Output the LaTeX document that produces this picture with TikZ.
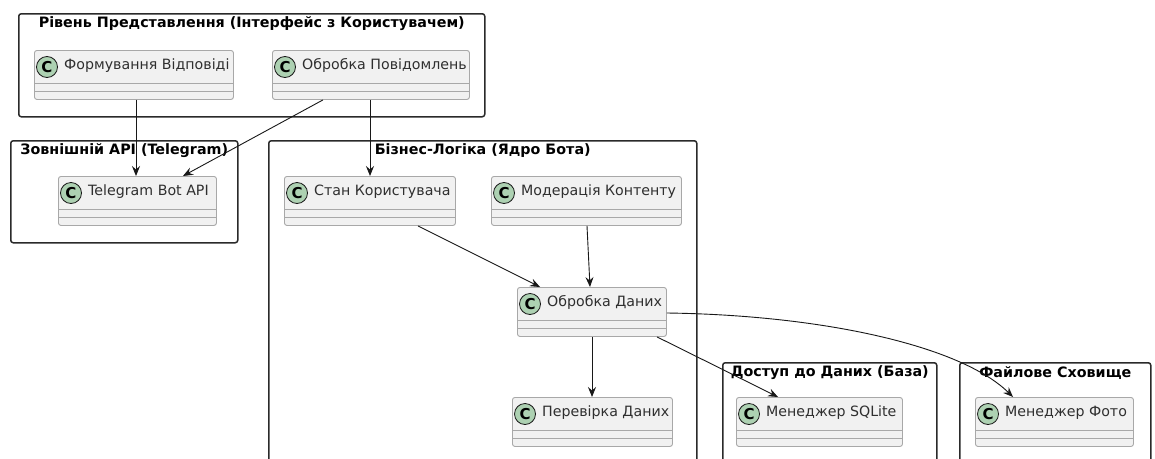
\documentclass[tikz,border=0pt]{standalone}
\usepackage{fontspec}
\setmainfont{DejaVu Sans}
\usetikzlibrary{arrows.meta,calc}
\definecolor{clsfill}{HTML}{F1F1F1}
\definecolor{clsdraw}{HTML}{A8A8A8}
\definecolor{circfill}{HTML}{ADD1B2}
\definecolor{ink}{HTML}{181818}
\definecolor{pkgdraw}{HTML}{2A2A2A}
\tikzset{
 pkg/.style={draw=pkgdraw, line width=1.5pt, rounded corners=2.5pt, fill=white, anchor=north west, inner sep=0},
 pkgtitle/.style={font=\bfseries\fontsize{14.3}{16}\selectfont, text=black, inner sep=0},
 cls/.style={draw=clsdraw, line width=0.9pt, fill=clsfill, rounded corners=2.5pt, anchor=north west, inner sep=0, minimum height=49pt},
 clsline/.style={draw=clsdraw, line width=0.9pt},
 circ/.style={circle, draw=ink, line width=0.8pt, fill=circfill, minimum size=21pt, inner sep=0, font=\bfseries\fontsize{15}{15}\selectfont},
 clstext/.style={font=\fontsize{14.2}{16}\selectfont, text=ink!90, anchor=mid west, inner sep=0},
 dep/.style={draw=ink, line width=0.9pt, -{Stealth[length=10pt,width=8pt,inset=3.5pt]}},
}
\newcommand\classbox[4]{%
 \node[cls, minimum width=#3pt] (#1) at (#2) {};
 \draw[clsline] ([yshift=-33pt]#1.north west) -- ([yshift=-33pt]#1.north east);
 \draw[clsline] ([yshift=-41pt]#1.north west) -- ([yshift=-41pt]#1.north east);
 \node[circ] (#1c) at ([xshift=13pt,yshift=-17pt]#1.north west) {C};
 \node[clstext] (#1t) at ([xshift=30pt,yshift=-17pt]#1.north west) {#4};
}
\newcommand\pkgbox[5]{%
 \node[pkg, minimum width=#3pt, minimum height=#4pt] (#1) at (#2) {};
 \node[pkgtitle] (#1t) at ([yshift=-11pt]#1.north) {#5};
}
\begin{document}
\begin{tikzpicture}[x=1pt,y=-1pt]
\clip (0,0) rectangle (1155,458);
\fill[white] (0,0) rectangle (1155,458);
% packages
\pkgbox{p1}{18,13}{466}{103}{Рівень Представлення (Інтерфейс з Користувачем)}
\pkgbox{p2}{10,140}{227}{102}{Зовнішній API (Telegram)}
\pkgbox{p3}{268,140}{428}{340}{Бізнес-Логіка (Ядро Бота)}
\pkgbox{p4}{722,362}{214}{120}{Доступ до Даних (База)}
\pkgbox{p5}{959,362}{191}{120}{Файлове Сховище}
% classes
\classbox{fv}{34,50}{199}{Формування Відповіді}
\classbox{op}{272,50}{197}{Обробка Повідомлень}
\classbox{tg}{58,176}{158}{Telegram Bot API}
\classbox{st}{284,176}{171}{Стан Користувача}
\classbox{md}{491,176}{190}{Модерація Контенту}
\classbox{od}{517,287}{149}{Обробка Даних}
\classbox{pv}{512,397}{160}{Перевірка Даних}
\classbox{sq}{736,397}{166}{Менеджер SQLite}
\classbox{ph}{975,397}{158}{Менеджер Фото}
% connectors
\draw[dep] ($(fv.south west)+(102,0)$) -- ($(tg.north west)+(78,0)$);
\draw[dep] ($(op.south west)+(51,0)$) -- ($(tg.north west)+(125,0)$);
\draw[dep] ($(op.south west)+(98,0)$) -- ($(st.north west)+(86,0)$);
\draw[dep] ($(st.south west)+(134,0)$) -- ($(od.north west)+(23,0)$);
\draw[dep] ($(md.south west)+(96,0)$) -- ($(od.north west)+(73,0)$);
\draw[dep] ($(od.south west)+(75,0)$) -- ($(pv.north west)+(80,0)$);
\draw[dep] ($(od.south west)+(140,0)$) -- ($(sq.north west)+(42,0)$);
\draw[dep] ($(od.north east)+(0,26)$) .. controls (820,315) and (960,345) .. ($(ph.north west)+(38,0)$);
\end{tikzpicture}
\end{document}
